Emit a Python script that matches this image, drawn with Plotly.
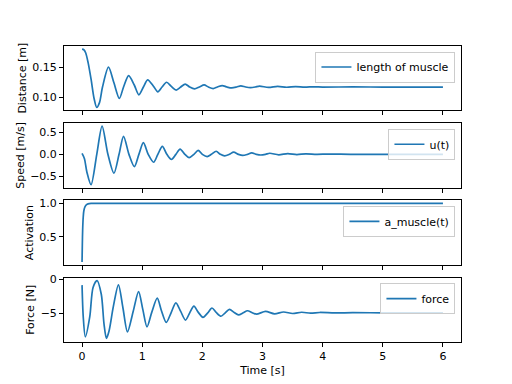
import plotly.graph_objects as go
from plotly.subplots import make_subplots

# ---- data ----
t_length = [0.0, 0.03, 0.06, 0.10, 0.15, 0.20, 0.245, 0.29, 0.34, 0.44, 0.53, 0.62, 0.69, 0.775,
            0.87, 0.945, 1.02, 1.09, 1.19, 1.26, 1.33, 1.405, 1.485, 1.565, 1.64, 1.715, 1.79,
            1.87, 1.95, 2.03, 2.10, 2.18, 2.25, 2.33, 2.41, 2.49, 2.57, 2.64, 2.72, 2.80, 2.88,
            2.95, 3.10, 3.25, 3.40, 3.55, 3.70, 3.85, 4.0, 4.5, 5.0, 6.0]
length = [0.180, 0.179, 0.174, 0.158, 0.130, 0.098, 0.083, 0.091, 0.117, 0.150, 0.124, 0.098,
          0.117, 0.136, 0.120, 0.104, 0.117, 0.129, 0.118, 0.109, 0.117, 0.125, 0.118, 0.112,
          0.117, 0.122, 0.117, 0.114, 0.117, 0.1205, 0.117, 0.1145, 0.117, 0.1195, 0.117,
          0.1155, 0.117, 0.119, 0.117, 0.116, 0.117, 0.1185, 0.1163, 0.118, 0.1166, 0.1176,
          0.1168, 0.1174, 0.117, 0.1171, 0.117, 0.117]

t_speed = [0.0, 0.04, 0.08, 0.15, 0.245, 0.333, 0.43, 0.53, 0.615, 0.69, 0.78, 0.87, 0.945,
           1.02, 1.10, 1.19, 1.26, 1.335, 1.41, 1.485, 1.56, 1.63, 1.71, 1.78, 1.86, 1.93,
           2.0, 2.08, 2.15, 2.23, 2.30, 2.37, 2.45, 2.52, 2.60, 2.67, 2.75, 2.82, 2.90, 2.97,
           3.05, 3.12, 3.27, 3.42, 3.57, 3.72, 3.90, 4.10, 4.5, 6.0]
speed = [0.02, -0.10, -0.40, -0.69, 0.0, 0.64, 0.0, -0.43, 0.0, 0.41, 0.0, -0.28, 0.0, 0.265,
         0.0, -0.18, 0.0, 0.18, 0.0, -0.115, 0.0, 0.12, 0.0, -0.077, 0.0, 0.09, 0.0, -0.05,
         0.0, 0.07, 0.0, -0.035, 0.0, 0.05, 0.0, -0.025, 0.0, 0.035, 0.0, -0.015, 0.0, 0.025,
         -0.01, 0.018, -0.005, 0.012, 0.0, 0.006, 0.0, 0.0]

t_act = [0.0, 0.005, 0.01, 0.02, 0.03, 0.05, 0.075, 0.10, 0.15, 0.20, 6.0]
activation = [0.125, 0.40, 0.60, 0.80, 0.89, 0.95, 0.98, 0.993, 1.0, 1.0, 1.0]

t_force = [0.0, 0.02, 0.055, 0.128, 0.183, 0.25, 0.32, 0.365, 0.405, 0.45, 0.52, 0.605, 0.68,
           0.755, 0.85, 0.94, 1.01, 1.08, 1.16, 1.25, 1.32, 1.40, 1.48, 1.56, 1.64, 1.72,
           1.79, 1.86, 1.93, 2.01, 2.09, 2.16, 2.23, 2.31, 2.38, 2.45, 2.53, 2.60, 2.68, 2.75,
           2.83, 2.90, 3.05, 3.20, 3.35, 3.50, 3.65, 3.80, 3.95, 4.2, 4.5, 5.0, 6.0]
force = [-0.87, -5.5, -8.4, -5.5, -1.2, -0.2, -2.2, -6.5, -8.63, -7.5, -4.0, -0.83, -4.2,
         -7.67, -4.7, -1.8, -4.4, -6.94, -4.8, -2.77, -4.6, -6.3, -4.9, -3.45, -4.7, -5.97,
         -4.9, -3.93, -4.8, -5.55, -4.9, -4.2, -4.85, -5.4, -4.9, -4.4, -4.85, -5.2, -4.9,
         -4.6, -4.88, -5.1, -4.7, -5.05, -4.78, -5.0, -4.82, -4.95, -4.85, -4.92, -4.88,
         -4.9, -4.9]

series_names = ["length of muscle", "u(t)", "a_muscle(t)", "force"]
y_titles = ["Distance [m]", "Speed [m/s]", "Activation", "Force [N]"]
x_title = "Time [s]"

x_tickvals = [0, 1, 2, 3, 4, 5, 6]
y_tickvals = [[0.10, 0.15], [-0.5, 0.0, 0.5], [0.5, 1.0], [-5, 0]]
y_ticktext = [["0.10", "0.15"], ["\u22120.5", "0.0", "0.5"], ["0.5", "1.0"], ["\u22125", "0"]]
y_ranges = [[0.0782, 0.1853], [-0.755, 0.707], [0.082, 1.044], [-9.15, 0.22]]
x_range = [-0.3, 6.3]

# ---- figure ----
BLUE = "#1f77b4"
FONT = "DejaVu Sans"
FS = 11

fig = make_subplots(rows=4, cols=1, shared_xaxes=True, vertical_spacing=0.0435)

all_t = [t_length, t_speed, t_act, t_force]
all_y = [length, speed, activation, force]
legend_ids = ["legend", "legend2", "legend3", "legend4"]

for i in range(4):
    fig.add_trace(
        go.Scatter(x=all_t[i], y=all_y[i], mode="lines", name=series_names[i],
                   line=dict(color=BLUE, width=1.7, shape="spline", smoothing=0.8),
                   legend=legend_ids[i], showlegend=True),
        row=i + 1, col=1)

axis_common = dict(showline=True, linecolor="black", linewidth=0.9, mirror=True,
                   ticks="outside", ticklen=4, tickwidth=0.9, tickcolor="black",
                   showgrid=False, zeroline=False, automargin=False,
                   tickfont=dict(family=FONT, size=FS, color="black"))

for i in range(4):
    fig.update_xaxes(range=x_range, tickvals=x_tickvals, **axis_common, row=i + 1, col=1)
    fig.update_yaxes(range=y_ranges[i], tickvals=y_tickvals[i], ticktext=y_ticktext[i],
                     title=dict(text=y_titles[i], font=dict(family=FONT, size=FS, color="black"),
                                standoff=3),
                     **axis_common, row=i + 1, col=1)

fig.update_xaxes(showticklabels=True, title=dict(text=x_title,
                 font=dict(family=FONT, size=FS, color="black"), standoff=4), row=4, col=1)

# legend placement (upper right of each panel)
domains_top = [1.0, 0.7391, 0.4783, 0.2174]
pad = 5.5 / 295.7
legend_style = dict(xanchor="right", yanchor="top", x=0.986,
                    bgcolor="rgba(255,255,255,0.8)", bordercolor="#cccccc", borderwidth=1,
                    font=dict(family=FONT, size=FS, color="black"), itemwidth=30,
                    tracegroupgap=0)
legends = {}
for i, lid in enumerate(legend_ids):
    legends[lid] = dict(y=domains_top[i] - pad, **legend_style)

fig.update_layout(
    width=512, height=384,
    margin=dict(l=64, r=51, t=46, b=42),
    plot_bgcolor="white", paper_bgcolor="white",
    font=dict(family=FONT, size=FS, color="black"),
    **legends,
)

fig.write_html("out.html", config={"displayModeBar": False},
               post_script="document.body.style.margin='0';")
